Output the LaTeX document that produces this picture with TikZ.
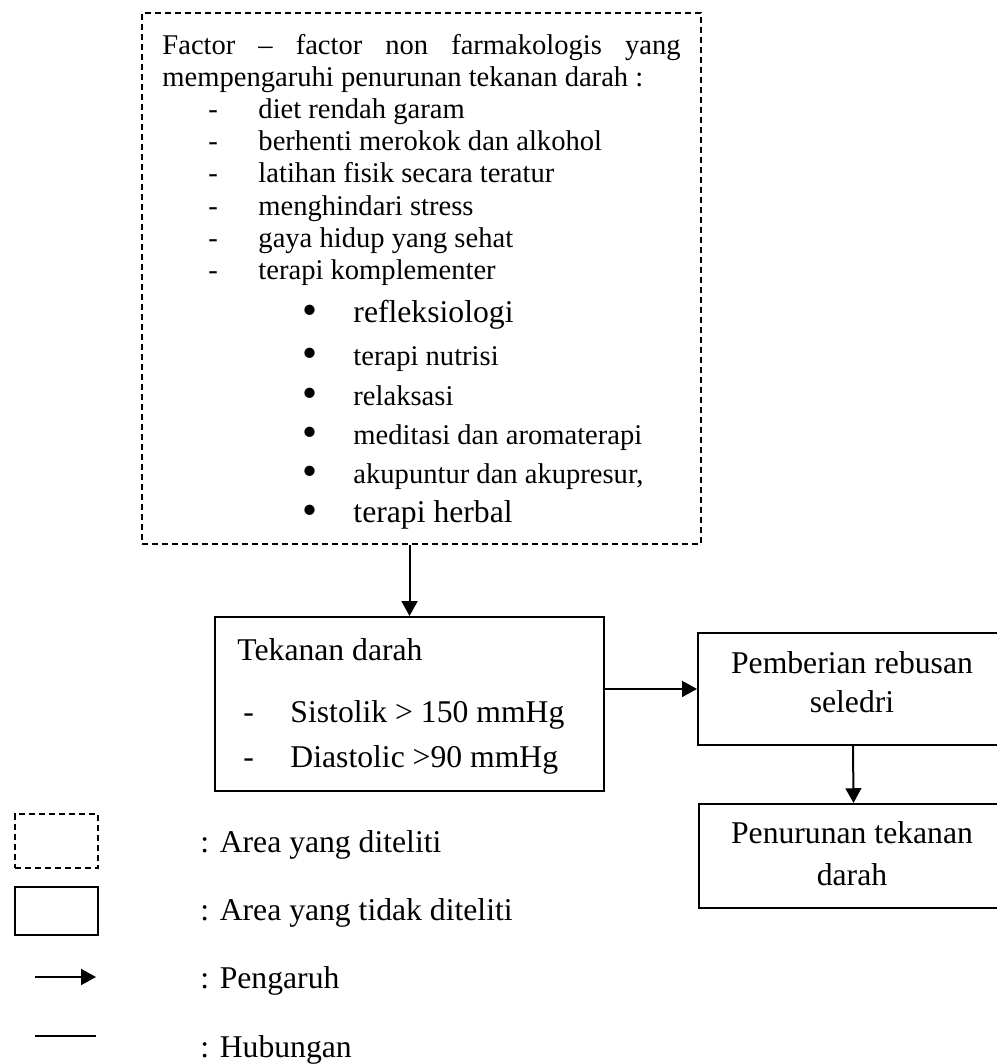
\documentclass[tikz,border=0pt]{standalone}
\usepackage{fontspec}
\setmainfont{Liberation Serif}
\usetikzlibrary{arrows.meta}

\tikzset{
  box/.style={draw, line width=0.84pt, inner sep=0pt, anchor=north west},
  dashbox/.style={draw, line width=0.7pt, dash pattern=on 2.5pt off 1.7pt, inner sep=0pt, anchor=north west},
  txt/.style={inner sep=0pt, anchor=base west, font=\fontsize{12}{14}\selectfont},
  bigtxt/.style={inner sep=0pt, anchor=base west, font=\fontsize{13.3}{15}\selectfont},
  ctxt/.style={inner sep=0pt, anchor=base, font=\fontsize{13.3}{15}\selectfont},
  titik/.style={inner sep=0pt, anchor=base west, font=\fontsize{18}{18}\selectfont},
  arr/.style={line width=0.84pt, -{Triangle[length=6.2pt,width=6.6pt]}}
}

\begin{document}
\begin{tikzpicture}[x=0.42pt, y=-0.42pt]
\useasboundingbox (0,0) rectangle (997,1064);

% kotak faktor non farmakologis
\node[dashbox, minimum width=234.8pt, minimum height=223pt] (faktor) at (141,12) {};
\node[txt] (judul1) at (162,54) {\makebox[217.6pt][s]{Factor -- factor non farmakologis yang}};
\node[txt] (judul2) at (162,86) {mempengaruhi penurunan tekanan darah :};
\foreach \t [count=\i] in {diet rendah garam, berhenti merokok dan alkohol, latihan fisik secara teratur, menghindari stress, gaya hidup yang sehat, terapi komplementer} {
  \node[txt] (strip\i) at (208,{86+32.3*\i}) {-};
  \node[txt] (item\i) at (258,{86+32.3*\i}) {\t};
}
% terapi komplementer
\node[titik] (titik1) at (302,324) {\textbullet};
\node[bigtxt] (refleksi) at (353,322) {refleksiologi};
\foreach \t/\y [count=\i from 2] in {terapi nutrisi/365, relaksasi/405, meditasi dan aromaterapi/444, {akupuntur dan akupresur,}/483} {
  \node[titik] (titik\i) at (302,\y+2) {\textbullet};
  \node[txt] (terapi\i) at (353,\y) {\t};
}
\node[titik] (titik6) at (302,524) {\textbullet};
\node[bigtxt] (herbal) at (353,522) {terapi herbal};

% tekanan darah
\node[box, minimum width=163.4pt, minimum height=73.1pt] (tekanan) at (214,616) {};
\node[bigtxt] (tekjudul) at (237,660) {Tekanan darah};
\node[bigtxt] (strip7) at (243,722) {-};
\node[bigtxt] (sistol) at (290,722) {Sistolik > 150 mmHg};
\node[bigtxt] (strip8) at (243,767) {-};
\node[bigtxt] (diastol) at (290,767) {Diastolic >90 mmHg};

% seledri dan hasil
\node[box, minimum width=130.2pt, minimum height=47pt] (pemberian) at (697,632) {};
\node[ctxt] (pemb1) at (852,673) {Pemberian rebusan};
\node[ctxt] (pemb2) at (852,712) {seledri};
\node[box, minimum width=129.8pt, minimum height=43.7pt] (penurunan) at (698,803) {};
\node[ctxt] (turun1) at (852,843) {Penurunan tekanan};
\node[ctxt] (turun2) at (852,885) {darah};

\draw[arr] (faktor.south -| tekanan.north) -- (tekanan.north);
\draw[arr] (tekanan.east |- pemberian.west) -- (pemberian.west);
\draw[arr] (pemberian.south) -- (penurunan.north);

% keterangan
\node[dashbox, minimum width=34.9pt, minimum height=22.7pt] (kdash) at (14,813) {};
\node[box, minimum width=34.9pt, minimum height=20.2pt] (kbox) at (14,886) {};
\coordinate (ka1) at (35,977);
\coordinate (ka2) at (96,977);
\coordinate (kl1) at (35,1036);
\coordinate (kl2) at (96,1036);
\draw[arr] (ka1) -- (ka2);
\draw[line width=0.84pt] (kl1) -- (kl2);
\node[bigtxt] (ket1) at (200,852) {: Area yang diteliti};
\node[bigtxt] (ket2) at (200,920) {: Area yang tidak diteliti};
\node[bigtxt] (ket3) at (200,988) {: Pengaruh};
\node[bigtxt] (ket4) at (200,1057) {: Hubungan};
\end{tikzpicture}
\end{document}
